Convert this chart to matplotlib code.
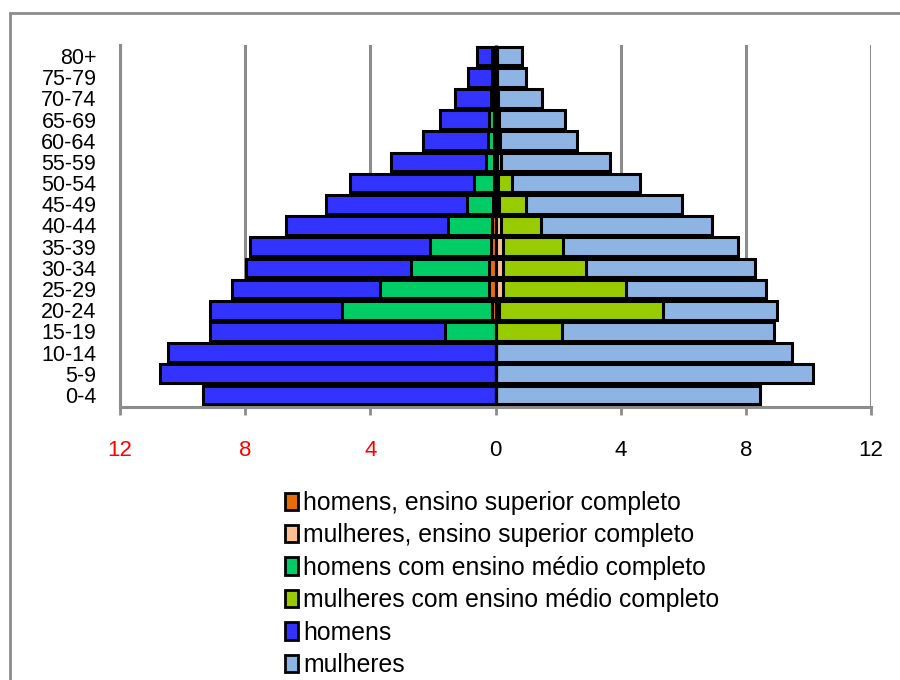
import numpy as np
import matplotlib.pyplot as plt
from matplotlib.patches import Patch, Rectangle

plt.rcParams['font.family'] = ['Liberation Sans', 'DejaVu Sans']

# Age groups, bottom to top
faixas = ['0-4', '5-9', '10-14', '15-19', '20-24', '25-29', '30-34', '35-39', '40-44',
          '45-49', '50-54', '55-59', '60-64', '65-69', '70-74', '75-79', '80+']

# Population share (%) per group
homens = [9.35, 10.73, 10.47, 9.11, 9.11, 8.43, 7.96, 7.84, 6.70,
          5.43, 4.66, 3.33, 2.31, 1.78, 1.30, 0.87, 0.58]
mulheres = [8.46, 10.15, 9.49, 8.89, 9.01, 8.65, 8.28, 7.75, 6.91,
            5.96, 4.63, 3.67, 2.59, 2.23, 1.50, 0.97, 0.84]
homens_medio = [0, 0, 0, 1.60, 4.90, 3.70, 2.69, 2.08, 1.52,
                0.92, 0.68, 0.30, 0.25, 0.20, 0.15, 0.10, 0.10]
mulheres_medio = [0, 0, 0, 2.11, 5.35, 4.16, 2.90, 2.17, 1.45,
                  0.97, 0.54, 0.18, 0.15, 0.10, 0.08, 0.05, 0.05]
homens_superior = [0, 0, 0, 0, 0.10, 0.20, 0.20, 0.15, 0.12,
                   0.08, 0.06, 0.05, 0.05, 0.05, 0.05, 0.05, 0.05]
mulheres_superior = [0, 0, 0, 0, 0.12, 0.25, 0.25, 0.25, 0.18,
                     0.12, 0.08, 0.05, 0.05, 0.05, 0.05, 0.05, 0.05]

c_homens = '#3333ff'
c_mulheres = '#8eb4e3'
c_h_medio = '#00cc66'
c_m_medio = '#99cc00'
c_h_sup = '#e46c0a'
c_m_sup = '#fac090'

fig = plt.figure(figsize=(9, 6.8), dpi=100)
ax = fig.add_axes([120 / 900, 1 - 407 / 680, (871 - 120) / 900, (407 - 45) / 680])

y = np.arange(len(faixas))
h = 0.88
kw = dict(height=h, edgecolor='black', linewidth=2.2, zorder=3)

# overlapping bars: totals first, then education layers on top
ax.barh(y, -np.array(homens), color=c_homens, **kw)
ax.barh(y, mulheres, color=c_mulheres, **kw)
ax.barh(y, -np.array(homens_medio), color=c_h_medio, **kw)
ax.barh(y, mulheres_medio, color=c_m_medio, **kw)
ax.barh(y, -np.array(homens_superior), color=c_h_sup, **kw)
ax.barh(y, mulheres_superior, color=c_m_sup, **kw)

ax.set_xlim(-12, 12)
ax.set_ylim(-0.57, len(faixas) - 0.48)

ticks = [-12, -8, -4, 0, 4, 8, 12]
ax.set_xticks(ticks)
ax.set_xticklabels([str(abs(t)) for t in ticks], fontsize=16)
for lbl, t in zip(ax.get_xticklabels(), ticks):
    lbl.set_color('red' if t < 0 else 'black')
ax.tick_params(axis='x', length=6, width=2, color='#8c8c8c', pad=18)

ax.set_yticks(y)
ax.set_yticklabels(faixas, fontsize=15.5)
ax.tick_params(axis='y', length=0, pad=17)

ax.grid(axis='x', color='#8c8c8c', linewidth=2.2, zorder=0)
for s in ['top', 'right']:
    ax.spines[s].set_visible(False)
for s in ['left', 'bottom']:
    ax.spines[s].set_color('#8c8c8c')
    ax.spines[s].set_linewidth(2.2)

# legend below the plot
handles = [Patch(facecolor=c, edgecolor='black', linewidth=2)
           for c in [c_h_sup, c_m_sup, c_h_medio, c_m_medio, c_homens, c_mulheres]]
labels = ['homens, ensino superior completo', 'mulheres, ensino superior completo',
          'homens com ensino médio completo', 'mulheres com ensino médio completo',
          'homens', 'mulheres']
fig.legend(handles, labels, loc='upper left', bbox_to_anchor=(275 / 900, 1 - 481 / 680),
           frameon=False, fontsize=17.8, handlelength=0.55, handleheight=0.7,
           handletextpad=0.2, labelspacing=0.34, borderaxespad=0)

# outer chart frame
fig.patches.append(Rectangle((10 / 900, -0.1), 1.2, 1.1 - 13 / 680, transform=fig.transFigure,
                             fill=False, edgecolor='#8c8c8c', linewidth=2))

fig.savefig('out.png', dpi=100)
